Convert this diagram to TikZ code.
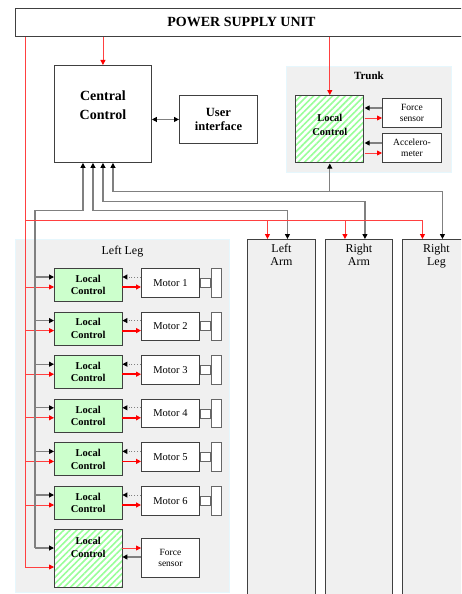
\documentclass[tikz,border=0pt]{standalone}
\usepackage{fontspec}
\setmainfont{Liberation Serif}
\usetikzlibrary{arrows.meta, positioning, calc, patterns.meta}

\begin{document}
\begin{tikzpicture}[
  x=1pt, y=-1pt,
  every node/.style={font=\fontsize{10.5}{12.5}\selectfont, inner sep=1pt},
  box/.style={draw=black!75, fill=white, line width=0.9pt, align=center, anchor=north west},
  region/.style={draw=cyan!10, fill=black!6, line width=0.9pt, anchor=north west},
  armbox/.style={draw=black!75, fill=black!6, line width=0.9pt, anchor=north west, minimum width=68pt, minimum height=370pt},
  lcfont/.style={font=\fontsize{10.5}{12.5}\selectfont\bfseries, align=center},
  lcbox/.style={box, lcfont, fill=green!20, minimum width=67.5pt, minimum height=33pt},
  hatchbox/.style={box, preaction={fill=white}, pattern={Lines[angle=45, distance=4.5pt, line width=1.6pt]}, pattern color=green!40},
  motbox/.style={box, minimum width=58pt, minimum height=28.5pt},
  sensbox/.style={box, minimum width=59pt, minimum height=29pt, font=\fontsize{9.5}{11.5}\selectfont},
  shaft/.style={draw=black!60, fill=white, line width=0.9pt, minimum width=10pt, minimum height=9pt, inner sep=0pt},
  plate/.style={draw=black!60, fill=white, line width=0.9pt, minimum width=10pt, minimum height=28.5pt, inner sep=0pt},
  sig/.style={draw=black!50, line width=1.1pt, -{Triangle[length=5pt, width=5pt, color=black]}},
  up/.style={draw=black!50, line width=1.1pt, {Triangle[length=5pt, width=5pt, color=black]}-},
  both/.style={draw=black!50, line width=1.1pt, {Triangle[length=5pt, width=5pt, color=black]}-{Triangle[length=5pt, width=5pt, color=black]}},
  pline/.style={draw=red!75, line width=0.8pt},
  pwr/.style={pline, -{Triangle[length=5pt, width=5pt, color=red]}},
  fb/.style={draw=black!50, line width=0.9pt, dotted, -{Triangle[length=5pt, width=5pt, color=black]}},
  drive/.style={draw=red, line width=1.8pt, -{Triangle[length=5pt, width=5pt]}}
]
  \path[use as bounding box, clip] (0,0) rectangle (461,594);

  % supply and central part
  \node[box, minimum width=452pt, minimum height=28pt, font=\fontsize{14}{16}\selectfont\bfseries] (psu) at (15,8) {POWER SUPPLY UNIT};
  \node[box, minimum width=97pt, minimum height=97pt,
    label={[lcfont, font=\fontsize{14}{19}\selectfont\bfseries, anchor=center, yshift=9pt]center:Central\\Control}] (cc) at (54,65) {};
  \node[box, minimum width=78pt, minimum height=48pt, font=\fontsize{12.5}{14}\selectfont\bfseries] (ui) at (179,95) {User\\interface};

  % trunk
  \node[region, minimum width=165pt, minimum height=106pt,
    label={[font=\fontsize{11}{13}\selectfont\bfseries, anchor=north, yshift=-5pt]north:Trunk}] (trunk) at (286,66) {};
  \node[hatchbox, minimum width=68pt, minimum height=67pt,
    label={[lcfont, font=\fontsize{10.5}{14}\selectfont\bfseries, anchor=center, yshift=4pt]center:Local\\Control}] (tlc) at (295,95) {};
  \node[sensbox] (tfs) at (382,98) {Force\\sensor};
  \node[sensbox] (acc) at (382,133) {Accelero-\\meter};
  \foreach \s in {tfs, acc} {
    \coordinate (k\s) at ($(\s.north west)+(0,10)$);
    \coordinate (r\s) at ($(\s.north west)+(0,20)$);
    \draw[sig] (k\s) -- (tlc.east |- k\s);
    \draw[pwr] (tlc.east |- r\s) -- (r\s);
  }

  % limbs
  \node[armbox, label={[align=center, font=\fontsize{12}{13}\selectfont, anchor=north, yshift=-4pt]north:Left\\Arm}] (larm) at (247,239) {};
  \node[armbox, minimum width=67pt, label={[align=center, font=\fontsize{12}{13}\selectfont, anchor=north, yshift=-4pt]north:Right\\Arm}] (rarm) at (325,239) {};
  \node[armbox, label={[align=center, font=\fontsize{12}{13}\selectfont, anchor=north, yshift=-4pt]north:Right\\Leg}] (rleg) at (402,239) {};

  % left leg
  \node[region, minimum width=214pt, minimum height=353pt,
    label={[font=\fontsize{12}{14}\selectfont, anchor=north, yshift=-6pt]north:Left Leg}] (lleg) at (15,239) {};
  \coordinate (bus) at (35,548);
  \coordinate (pbus) at (25,567);
  \coordinate (rjn) at (25,220);

  \foreach \i in {1,...,6} {
    \pgfmathsetmacro{\yy}{268+43.6*(\i-1)}
    \node[lcbox] (lc\i) at (54,\yy) {Local\\Control};
    \node[motbox] (m\i) at (141,\yy) {Motor \i};
    \node[shaft, anchor=west] (s\i) at (m\i.east) {};
    \node[plate, anchor=west] (p\i) at (s\i.east) {};
    \coordinate (k\i) at ($(lc\i.north west)+(0,9)$);
    \coordinate (r\i) at ($(lc\i.north west)+(0,19)$);
    \draw[sig] (bus |- k\i) -- (k\i);
    \draw[pwr] (pbus |- r\i) -- (r\i);
    \draw[fb] (m\i.west |- k\i) -- (lc\i.east |- k\i);
    \draw[drive] (lc\i.east |- r\i) -- (m\i.west |- r\i);
  }

  \node[hatchbox, minimum width=67.5pt, minimum height=58pt,
    label={[lcfont, anchor=center, yshift=11pt]center:Local\\Control}] (lc7) at (54,529) {};
  \node[sensbox, minimum width=58pt, minimum height=39pt] (lfs) at (141,538) {Force\\sensor};
  \coordinate (k7) at ($(lc7.north west)+(0,19)$);
  \coordinate (q7) at ($(lc7.north west)+(0,28)$);
  \coordinate (r7) at ($(lc7.north west)+(0,38)$);
  \draw[sig] (bus |- k7) -- (k7);
  \draw[pwr] (pbus |- r7) -- (r7);
  \draw[pwr] (lc7.east |- k7) -- (lfs.west |- k7);
  \draw[sig] (lfs.west |- q7) -- (lc7.east |- q7);

  % signal wires
  \draw[both] (cc.east |- ui.west) -- (ui.west);
  \draw[up] ($(cc.south)+(-20,0)$) -- ++(0,48) -| (bus);
  \draw[both] ($(cc.south)+(-10,0)$) -- ++(0,48) -| ($(larm.north)+(6,0)$);
  \draw[both] (cc.south) -- ++(0,39) -| ($(rarm.north)+(6,0)$);
  \draw[both] ($(cc.south)+(10,0)$) -- ++(0,29) coordinate (j4) -| ($(rleg.north)+(6,0)$);
  \draw[sig] (j4 -| tlc.south) -- (tlc.south);

  % power wires
  \draw[pline] (psu.south -| pbus) -- (pbus);
  \foreach \a in {larm, rarm, rleg}
    \draw[pwr] (rjn) -| ($(\a.north)+(-14,0)$);
  \draw[pwr] (psu.south -| cc.north) -- (cc.north);
  \draw[pwr] (psu.south -| tlc.north) -- (tlc.north);
\end{tikzpicture}
\end{document}
